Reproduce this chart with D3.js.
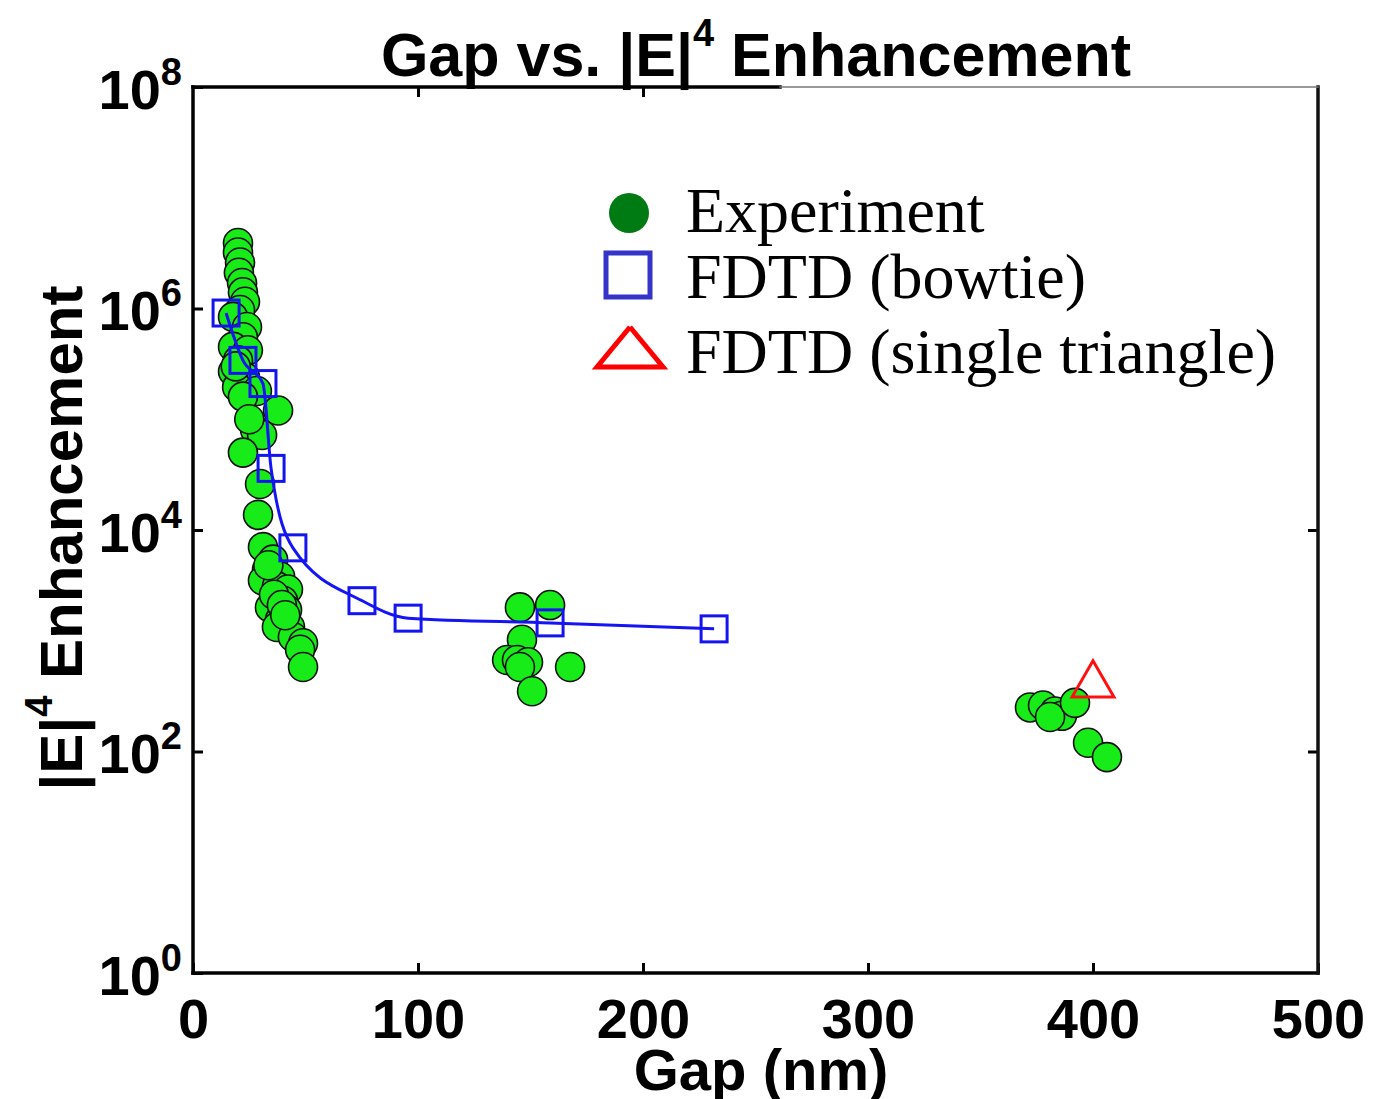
<!DOCTYPE html>
<html>
<head>
<meta charset="utf-8">
<script src="https://cdn.jsdelivr.net/npm/d3@7/dist/d3.min.js"></script>
<style>
  html, body { margin: 0; padding: 0; background: #fff; }
  svg { display: block; }
</style>
</head>
<body>
<svg id="chart" width="1376" height="1099"></svg>
<script>
// Measured |E|^4 enhancement versus bowtie gap (nm)
const experimentGap = [
  20.0, 20.0, 20.9, 20.4, 21.8, 22.2, 23.1, 20.9, 17.8, 24.0,
  22.2, 17.8, 24.4, 20.0, 17.8, 23.1, 19.6, 28.4, 22.2, 37.8,
  27.6, 30.7, 22.2, 29.8, 28.9, 31.1, 35.6, 32.9, 38.7, 31.1,
  37.3, 42.2, 40.0, 34.2, 41.8, 38.7, 43.1, 37.3, 44.4, 48.9,
  47.6, 48.9, 36.0, 39.5, 33.5, 41.0, 25.0, 19.0,
  145.3, 158.7, 146.2, 139.6, 144.0, 148.9, 145.3, 167.6, 150.7,
  372.0, 377.8, 383.1, 386.2, 380.9, 392.0, 397.8, 406.2
];
const experimentEnh = [
  3.9e6, 3.2e6, 2.6e6, 2.1e6, 1.7e6, 1.4e6, 1.15e6, 9.7e5, 8.4e5, 6.8e5,
  5.5e5, 4.5e5, 4.2e5, 3.4e5, 2.7e5, 2.4e5, 1.95e5, 1.8e5, 1.6e5, 1.2e5,
  8.0e4, 7.2e4, 5.0e4, 2.6e4, 1.37e4, 7.0e3, 5.4e3, 4.4e3, 3.8e3, 3.5e3,
  3.1e3, 2.9e3, 2.3e3, 2.0e3, 1.9e3, 1.55e3, 1.33e3, 1.33e3, 1.08e3, 9.5e2,
  8.3e2, 5.8e2, 2.6e3, 2.1e3, 4.8e3, 1.7e3, 1.0e5, 3.0e5,
  2.0e3, 2.1e3, 1.02e3, 6.7e2, 6.7e2, 6.4e2, 5.8e2, 5.8e2, 3.5e2,
  2.5e2, 2.6e2, 2.3e2, 2.1e2, 2.05e2, 2.75e2, 1.2e2, 89
];

// FDTD simulation, bowtie antenna
const bowtieGap = [14.7, 22.2, 31.1, 34.7, 44.4, 75.1, 95.6, 158.7, 231.6];
const bowtieEnh = [9.1e5, 3.4e5, 2.1e5, 3.6e4, 6.9e3, 2.3e3, 1.6e3, 1.45e3, 1.28e3];

// FDTD simulation, single triangle
const triangleGap = [400];
const triangleEnh = [400];

const xTickValues = [0, 100, 200, 300, 400, 500];
const yTickValues = [1, 1e2, 1e4, 1e6, 1e8];
const legendLabels = ["Experiment", "FDTD (bowtie)", "FDTD (single triangle)"];

const svg = d3.select("#chart");
const plotLeft = 193, plotRight = 1318, plotTop = 87, plotBottom = 973;
const sansFont = "'Liberation Sans', Arial, Helvetica, sans-serif";
const serifFont = "'Liberation Serif', 'Times New Roman', serif";

const x = d3.scaleLinear().domain([0, 500]).range([plotLeft, plotRight]);
const y = d3.scaleLog().domain([1, 1e8]).range([plotBottom, plotTop]);

// Experimental points
const expData = experimentGap.map((g, i) => ({ g, e: experimentEnh[i] }));
svg.append("g")
  .selectAll("circle")
  .data(expData)
  .join("circle")
  .attr("cx", d => x(d.g))
  .attr("cy", d => y(d.e))
  .attr("r", 14.5)
  .attr("fill", "#18ec18")
  .attr("stroke", "#101010")
  .attr("stroke-width", 1.6);

// Bowtie simulation curve and markers
const bowData = bowtieGap.map((g, i) => ({ g, e: bowtieEnh[i] }));
svg.append("path")
  .datum(bowData)
  .attr("fill", "none")
  .attr("stroke", "#1414f5")
  .attr("stroke-width", 3)
  .attr("d", d3.line().x(d => x(d.g)).y(d => y(d.e)).curve(d3.curveMonotoneX));

svg.append("g")
  .selectAll("rect")
  .data(bowData)
  .join("rect")
  .attr("x", d => x(d.g) - 13)
  .attr("y", d => y(d.e) - 13)
  .attr("width", 26)
  .attr("height", 26)
  .attr("fill", "none")
  .attr("stroke", "#1414f0")
  .attr("stroke-width", 3);

// Single triangle simulation
const triData = triangleGap.map((g, i) => ({ g, e: triangleEnh[i] }));
const triSymbol = d3.symbol().type(d3.symbolTriangle).size(760);
svg.append("g")
  .selectAll("path")
  .data(triData)
  .join("path")
  .attr("transform", d => `translate(${x(d.g)},${y(d.e)})`)
  .attr("d", triSymbol)
  .attr("fill", "none")
  .attr("stroke", "#ff1010")
  .attr("stroke-width", 3);

// Axes: inward ticks
function styleAxis(g) {
  g.select(".domain").remove();
  g.selectAll(".tick line").attr("stroke", "#000").attr("stroke-width", 3);
}

svg.append("g")
  .attr("transform", `translate(0,${plotBottom})`)
  .call(d3.axisBottom(x).tickValues(xTickValues).tickSize(-10).tickPadding(25).tickFormat(d3.format("d")))
  .call(styleAxis)
  .call(g => g.selectAll(".tick text")
    .attr("fill", "#000")
    .attr("font-family", sansFont)
    .attr("font-weight", "bold")
    .attr("font-size", 56));

svg.append("g")
  .attr("transform", `translate(${plotLeft},0)`)
  .call(d3.axisLeft(y).tickValues(yTickValues).tickSize(-10))
  .call(styleAxis)
  .call(g => g.selectAll(".tick text").each(function (d) {
    const t = d3.select(this);
    t.text(null)
      .attr("x", -11)
      .attr("dy", null)
      .attr("y", 0)
      .attr("text-anchor", "end")
      .attr("fill", "#000")
      .attr("font-family", sansFont)
      .attr("font-weight", "bold");
    t.append("tspan").attr("dy", 21).attr("font-size", 56).text("10");
    t.append("tspan").attr("dy", -24).attr("font-size", 38).text(Math.round(Math.log10(d)));
  }));

svg.append("g")
  .attr("transform", `translate(${plotRight},0)`)
  .call(d3.axisRight(y).tickValues([1e2, 1e4]).tickSize(-10).tickFormat(""))
  .call(styleAxis);

svg.append("g")
  .attr("transform", `translate(0,${plotTop})`)
  .call(d3.axisTop(x).tickValues([100, 200]).tickSize(-10).tickFormat(""))
  .call(styleAxis);

// Frame
const frame = svg.append("g").attr("stroke-linecap", "square");
frame.append("line").attr("x1", plotLeft).attr("x2", plotLeft).attr("y1", plotTop).attr("y2", plotBottom)
  .attr("stroke", "#000").attr("stroke-width", 3.5);
frame.append("line").attr("x1", plotLeft).attr("x2", plotRight).attr("y1", plotBottom).attr("y2", plotBottom)
  .attr("stroke", "#000").attr("stroke-width", 3.5);
frame.append("line").attr("x1", plotRight).attr("x2", plotRight).attr("y1", plotTop).attr("y2", plotBottom)
  .attr("stroke", "#111").attr("stroke-width", 3.5);
frame.append("line").attr("x1", plotLeft).attr("x2", 780).attr("y1", plotTop).attr("y2", plotTop)
  .attr("stroke", "#000").attr("stroke-width", 3.5);
frame.append("line").attr("x1", 780).attr("x2", plotRight).attr("y1", plotTop).attr("y2", plotTop)
  .attr("stroke", "#777").attr("stroke-width", 1.5);

// Title
const title = svg.append("text")
  .attr("x", 756).attr("y", 76)
  .attr("text-anchor", "middle")
  .attr("font-family", sansFont)
  .attr("font-weight", "bold")
  .attr("font-size", 61)
  .attr("fill", "#000");
title.append("tspan").text("Gap vs. |E|");
title.append("tspan").attr("dy", -30).attr("font-size", 38).text("4");
title.append("tspan").attr("dy", 30).text(" Enhancement");

// Axis titles
svg.append("text")
  .attr("x", 761).attr("y", 1090)
  .attr("text-anchor", "middle")
  .attr("font-family", sansFont)
  .attr("font-weight", "bold")
  .attr("font-size", 58)
  .attr("fill", "#000")
  .text("Gap (nm)");

const yTitle = svg.append("text")
  .attr("transform", "translate(82,538) rotate(-90)")
  .attr("text-anchor", "middle")
  .attr("font-family", sansFont)
  .attr("font-weight", "bold")
  .attr("font-size", 60)
  .attr("fill", "#000");
yTitle.append("tspan").text("|E|");
yTitle.append("tspan").attr("dy", -30).attr("font-size", 38).text("4");
yTitle.append("tspan").attr("dy", 30).text(" Enhancement");

// Legend
const legend = svg.append("g");
const legendY = [213, 275, 350];
const textY = [232, 298, 373];
legend.append("circle").attr("cx", 629).attr("cy", legendY[0]).attr("r", 20).attr("fill", "#007a12");
legend.append("rect").attr("x", 606).attr("y", legendY[1] - 22).attr("width", 44).attr("height", 44)
  .attr("fill", "none").attr("stroke", "#3434c8").attr("stroke-width", 5);
legend.append("path")
  .attr("d", d3.line()([[630, 327], [663, 367], [597, 367], [630, 327]]))
  .attr("fill", "none").attr("stroke", "#ff0000").attr("stroke-width", 5).attr("stroke-linejoin", "miter");
legend.selectAll("text")
  .data(legendLabels)
  .join("text")
  .attr("x", 686)
  .attr("y", (d, i) => textY[i])
  .attr("font-family", serifFont)
  .attr("font-size", 64)
  .attr("fill", "#000")
  .text(d => d);
</script>
</body>
</html>
